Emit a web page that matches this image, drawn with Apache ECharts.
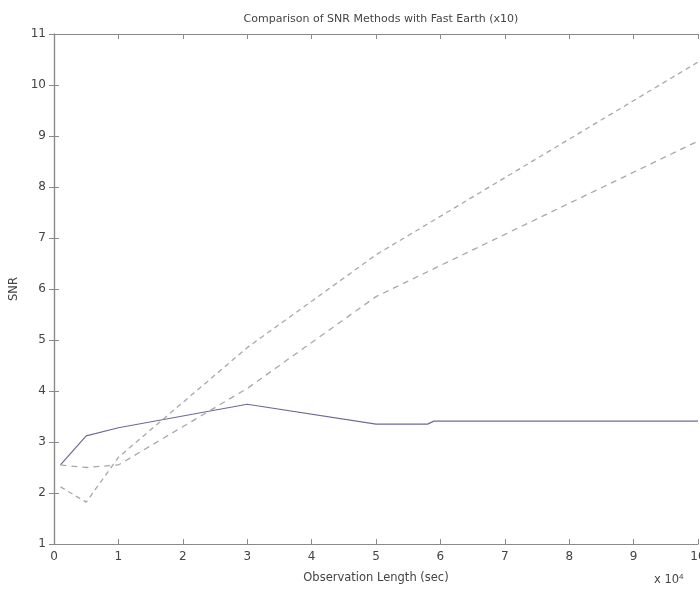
<!DOCTYPE html>
<html>
<head>
<meta charset="utf-8">
<script src="https://cdn.jsdelivr.net/npm/echarts@6/dist/echarts.min.js"></script>
<style>html,body{margin:0;padding:0;background:#fff}#c{width:700px;height:589px}</style>
</head>
<body>
<div id="c"></div>
<script>
const titleText = 'Comparison of SNR Methods with Fast Earth (x10)';
const xLabel = 'Observation Length (sec)';
const yLabel = 'SNR';
// x in units of 1e4 sec
const solidX = [0.1, 0.5, 1, 3, 5, 5.8, 5.9, 10];
const solidY = [2.55, 3.12, 3.28, 3.74, 3.35, 3.35, 3.41, 3.41];
const dashAX = [0.1, 0.5, 1, 3, 5, 10];
const dashAY = [2.12, 1.82, 2.7, 4.85, 6.67, 10.45];
const dashBX = [0.1, 0.5, 1, 3, 5, 10];
const dashBY = [2.55, 2.5, 2.55, 4.05, 5.85, 8.9];

const pairs = (xs, ys) => xs.map((x, i) => [x, ys[i]]);
const axisCol = '#8a8a8a';
const txtCol = '#444';
const font = 'DejaVu Sans, Arial, sans-serif';

const chart = echarts.init(document.getElementById('c'));
const baseX = {type: 'value', min: 0, max: 10, interval: 1,
  axisLine: {show: true, lineStyle: {color: axisCol, width: 1.2}},
  axisTick: {show: true, inside: true, length: 5, lineStyle: {color: axisCol}},
  splitLine: {show: false}};
const baseY = {type: 'value', min: 1, max: 11, interval: 1,
  axisLine: {show: true, lineStyle: {color: axisCol, width: 1.2}},
  axisTick: {show: true, inside: true, length: 5, lineStyle: {color: axisCol}},
  splitLine: {show: false}};
chart.setOption({
  animation: false,
  backgroundColor: '#fff',
  title: {text: titleText, left: 376, top: 9, textAlign: 'center',
    textStyle: {fontSize: 11, fontWeight: 'normal', color: txtCol, fontFamily: font}},
  grid: {left: 54, right: 2, top: 34, bottom: 45, containLabel: false, outerBoundsMode: 'none'},
  xAxis: [
    Object.assign({}, baseX, {position: 'bottom', name: xLabel, nameLocation: 'middle', nameGap: 28,
      nameTextStyle: {fontSize: 11.5, color: txtCol, fontFamily: font},
      axisLabel: {show: true, color: txtCol, fontSize: 12, margin: 7, fontFamily: font}}),
    Object.assign({}, baseX, {position: 'top', axisLabel: {show: false}})
  ],
  yAxis: [
    Object.assign({}, baseY, {position: 'left', name: yLabel, nameLocation: 'middle', nameGap: 30,
      nameTextStyle: {fontSize: 11.5, color: txtCol, fontFamily: font},
      axisLabel: {show: true, color: txtCol, fontSize: 12, margin: 8, fontFamily: font}}),
    Object.assign({}, baseY, {position: 'right', axisLabel: {show: false}})
  ],
  graphic: [{type: 'text', left: 654, top: 573,
    style: {text: 'x 10{s|4}', fill: txtCol, font: '11.5px ' + font,
      rich: {s: {fontSize: 8, verticalAlign: 'top', padding: [0, 0, 7, 0], fill: txtCol}}}}],
  series: [
    {type: 'line', data: pairs(solidX, solidY), symbol: 'none',
      lineStyle: {color: '#6b6b96', width: 1.2, type: 'solid'}},
    {type: 'line', data: pairs(dashAX, dashAY), symbol: 'none',
      lineStyle: {color: '#a8a8a8', width: 1.3, type: [5, 4]}},
    {type: 'line', data: pairs(dashBX, dashBY), symbol: 'none',
      lineStyle: {color: '#a8a8a8', width: 1.3, type: [6, 5]}}
  ]
});
</script>
</body>
</html>
